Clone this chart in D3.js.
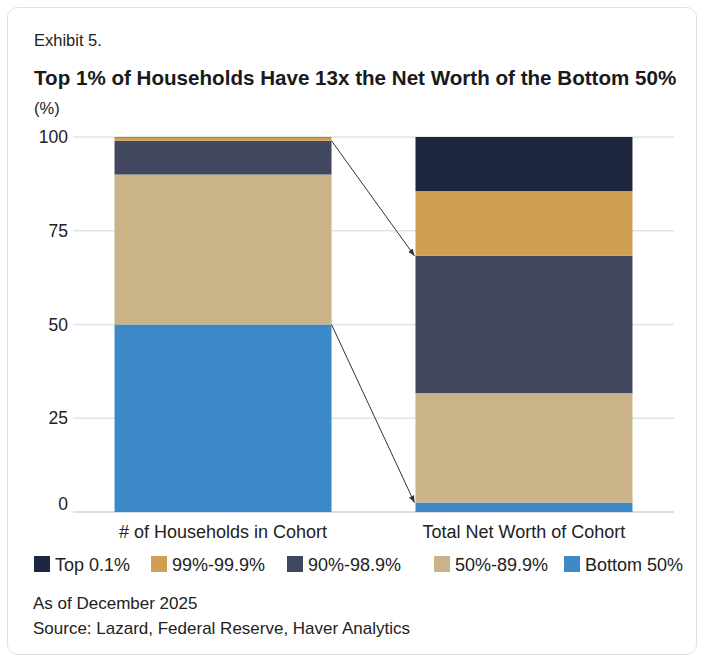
<!DOCTYPE html>
<html>
<head>
<meta charset="utf-8">
<script src="https://cdn.jsdelivr.net/npm/d3@7"></script>
<style>
  body { margin: 0; background: #fff; }
  svg { font-family: "Liberation Sans", Arial, sans-serif; }
</style>
</head>
<body>
<svg id="chart" width="704" height="660"></svg>
<script>
// Data (percent of total)
const categories = ["# of Households in Cohort", "Total Net Worth of Cohort"];
const series = ["Bottom 50%", "50%-89.9%", "90%-98.9%", "99%-99.9%", "Top 0.1%"];
const households = [50, 40, 9, 0.9, 0.1];
const netWorth = [2.5, 29.2, 36.6, 17.3, 14.4];
const yTicks = [0, 25, 50, 75, 100];
const colors = ["#3d89c8", "#cab388", "#40475f", "#cfa052", "#1f2640"];
const legendOrder = ["Top 0.1%", "99%-99.9%", "90%-98.9%", "50%-89.9%", "Bottom 50%"];

const svg = d3.select("#chart");

// card outline
svg.append("rect")
  .attr("x", 7.5).attr("y", 7.5)
  .attr("width", 689).attr("height", 647)
  .attr("rx", 10)
  .attr("fill", "#fff")
  .attr("stroke", "#dcdfe3");

svg.append("text").attr("x", 34).attr("y", 46)
  .style("font-size", "16.5px").attr("fill", "#222").text("Exhibit 5.");

svg.append("text").attr("x", 34).attr("y", 85)
  .style("font-size", "20.6px").style("font-weight", "bold").attr("fill", "#1a1a1a")
  .text("Top 1% of Households Have 13x the Net Worth of the Bottom 50%");

svg.append("text").attr("x", 34).attr("y", 114)
  .style("font-size", "16.5px").attr("fill", "#222").text("(%)");

// --- plot ---
const plot = { left: 73, right: 674, top: 137, bottom: 512 };

const x = d3.scaleBand()
  .domain(categories)
  .range([plot.left, plot.right])
  .paddingInner(0.279)
  .paddingOuter(0.138);

const y = d3.scaleLinear().domain([0, 100]).range([plot.bottom, plot.top]);

// gridlines
svg.append("g").selectAll("line").data(yTicks).join("line")
  .attr("x1", plot.left).attr("x2", plot.right)
  .attr("y1", d => y(d)).attr("y2", d => y(d))
  .attr("stroke", d => d === 0 ? "#cdd5dc" : "#dfe4e9")
  .attr("stroke-width", 1.5);

// y tick labels (the 0 sits just above the baseline)
svg.append("g").selectAll("text").data(yTicks).join("text")
  .attr("x", 68).attr("y", d => Math.min(y(d) + 6, plot.bottom - 2))
  .attr("text-anchor", "end")
  .style("font-size", "17.5px").attr("fill", "#222")
  .text(d => d);

// stacked bars
const rows = categories.map((c, i) => {
  const vals = i === 0 ? households : netWorth;
  const r = { category: c };
  series.forEach((s, j) => r[s] = vals[j]);
  return r;
});
const stacked = d3.stack().keys(series)(rows);

svg.append("g").selectAll("g").data(stacked).join("g")
  .attr("fill", (d, i) => colors[i])
  .selectAll("rect").data(d => d).join("rect")
  .attr("x", d => x(d.data.category))
  .attr("width", x.bandwidth())
  .attr("y", d => y(d[1]))
  .attr("height", d => y(d[0]) - y(d[1]));

// category labels
svg.append("g").selectAll("text").data(categories).join("text")
  .attr("x", d => x(d) + x.bandwidth() / 2).attr("y", 538)
  .attr("text-anchor", "middle")
  .style("font-size", "18px").attr("fill", "#222")
  .text(d => d);

// arrows linking the cohorts
svg.append("defs").append("marker")
  .attr("id", "arrow").attr("viewBox", "0 0 10 10")
  .attr("refX", 10).attr("refY", 5)
  .attr("markerWidth", 7).attr("markerHeight", 7)
  .attr("orient", "auto")
  .append("path").attr("d", "M0,1 L10,5 L0,9 Z").attr("fill", "#333");

const leftEdge = x(categories[0]) + x.bandwidth();
const rightEdge = x(categories[1]) - 1;
const links = [
  [stacked[2][0][1], stacked[2][1][1]], // top of 90%-98.9%
  [stacked[0][0][1], stacked[0][1][1]]  // top of bottom 50%
];
svg.append("g").selectAll("line").data(links).join("line")
  .attr("x1", leftEdge).attr("y1", d => y(d[0]))
  .attr("x2", rightEdge).attr("y2", d => y(d[1]))
  .attr("stroke", "#333").attr("stroke-width", 1)
  .attr("marker-end", "url(#arrow)");

// legend
const legendX = [34, 151, 287, 434, 564];
const legend = svg.append("g").selectAll("g").data(legendOrder).join("g")
  .attr("transform", (d, i) => `translate(${legendX[i]},556)`);
legend.append("rect")
  .attr("width", 16).attr("height", 16)
  .attr("fill", d => colors[series.indexOf(d)]);
legend.append("text")
  .attr("x", 21).attr("y", 14.5)
  .style("font-size", "18px").attr("fill", "#222")
  .text(d => d);

// notes
svg.append("text").attr("x", 33).attr("y", 609)
  .style("font-size", "17px").attr("fill", "#222").text("As of December 2025");
svg.append("text").attr("x", 33).attr("y", 634)
  .style("font-size", "17px").attr("fill", "#222").text("Source: Lazard, Federal Reserve, Haver Analytics");
</script>
</body>
</html>
